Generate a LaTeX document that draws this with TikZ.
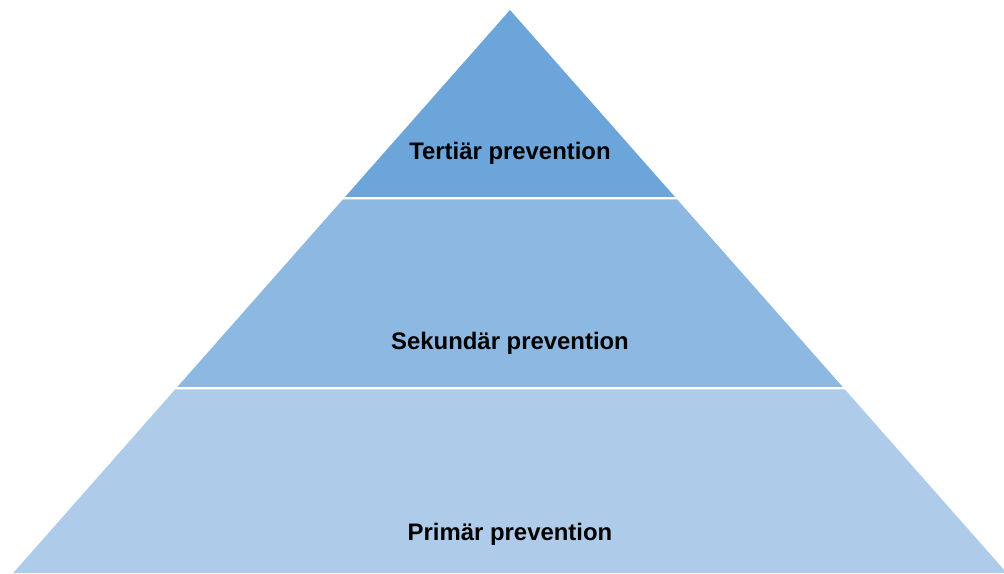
\documentclass[tikz,border=0pt]{standalone}
\usepackage{fontspec}
\setmainfont{Liberation Sans}
\definecolor{tierA}{HTML}{6CA5D9}
\definecolor{tierB}{HTML}{8DB8E1}
\definecolor{tierC}{HTML}{AECCE9}
\begin{document}
\begin{tikzpicture}[x=1pt,y=1pt,
  label/.style={anchor=base,font=\fontsize{23.9}{28}\selectfont\bfseries,text=black,inner sep=0pt}]
\useasboundingbox (0,0) rectangle (1004,573);
\clip (0,0) rectangle (1004,573);
% tiers (image y converted: tikz y = 573 - y)
\fill[tierA] (510,563) -- (675,376) -- (345,376) -- cycle;
\fill[tierB] (342.8,373.5) -- (677.2,373.5) -- (842.7,186) -- (177.3,186) -- cycle;
\fill[tierC] (175.1,183.5) -- (844.9,183.5) -- (1006.8,0) -- (13.2,0) -- cycle;
\node[label] (tert) at (510,413.5) {Tertiär prevention};
\node[label] (sek) at (510,223) {Sekundär prevention};
\node[label] (prim) at (510,32.3) {Primär prevention};
\end{tikzpicture}
\end{document}
